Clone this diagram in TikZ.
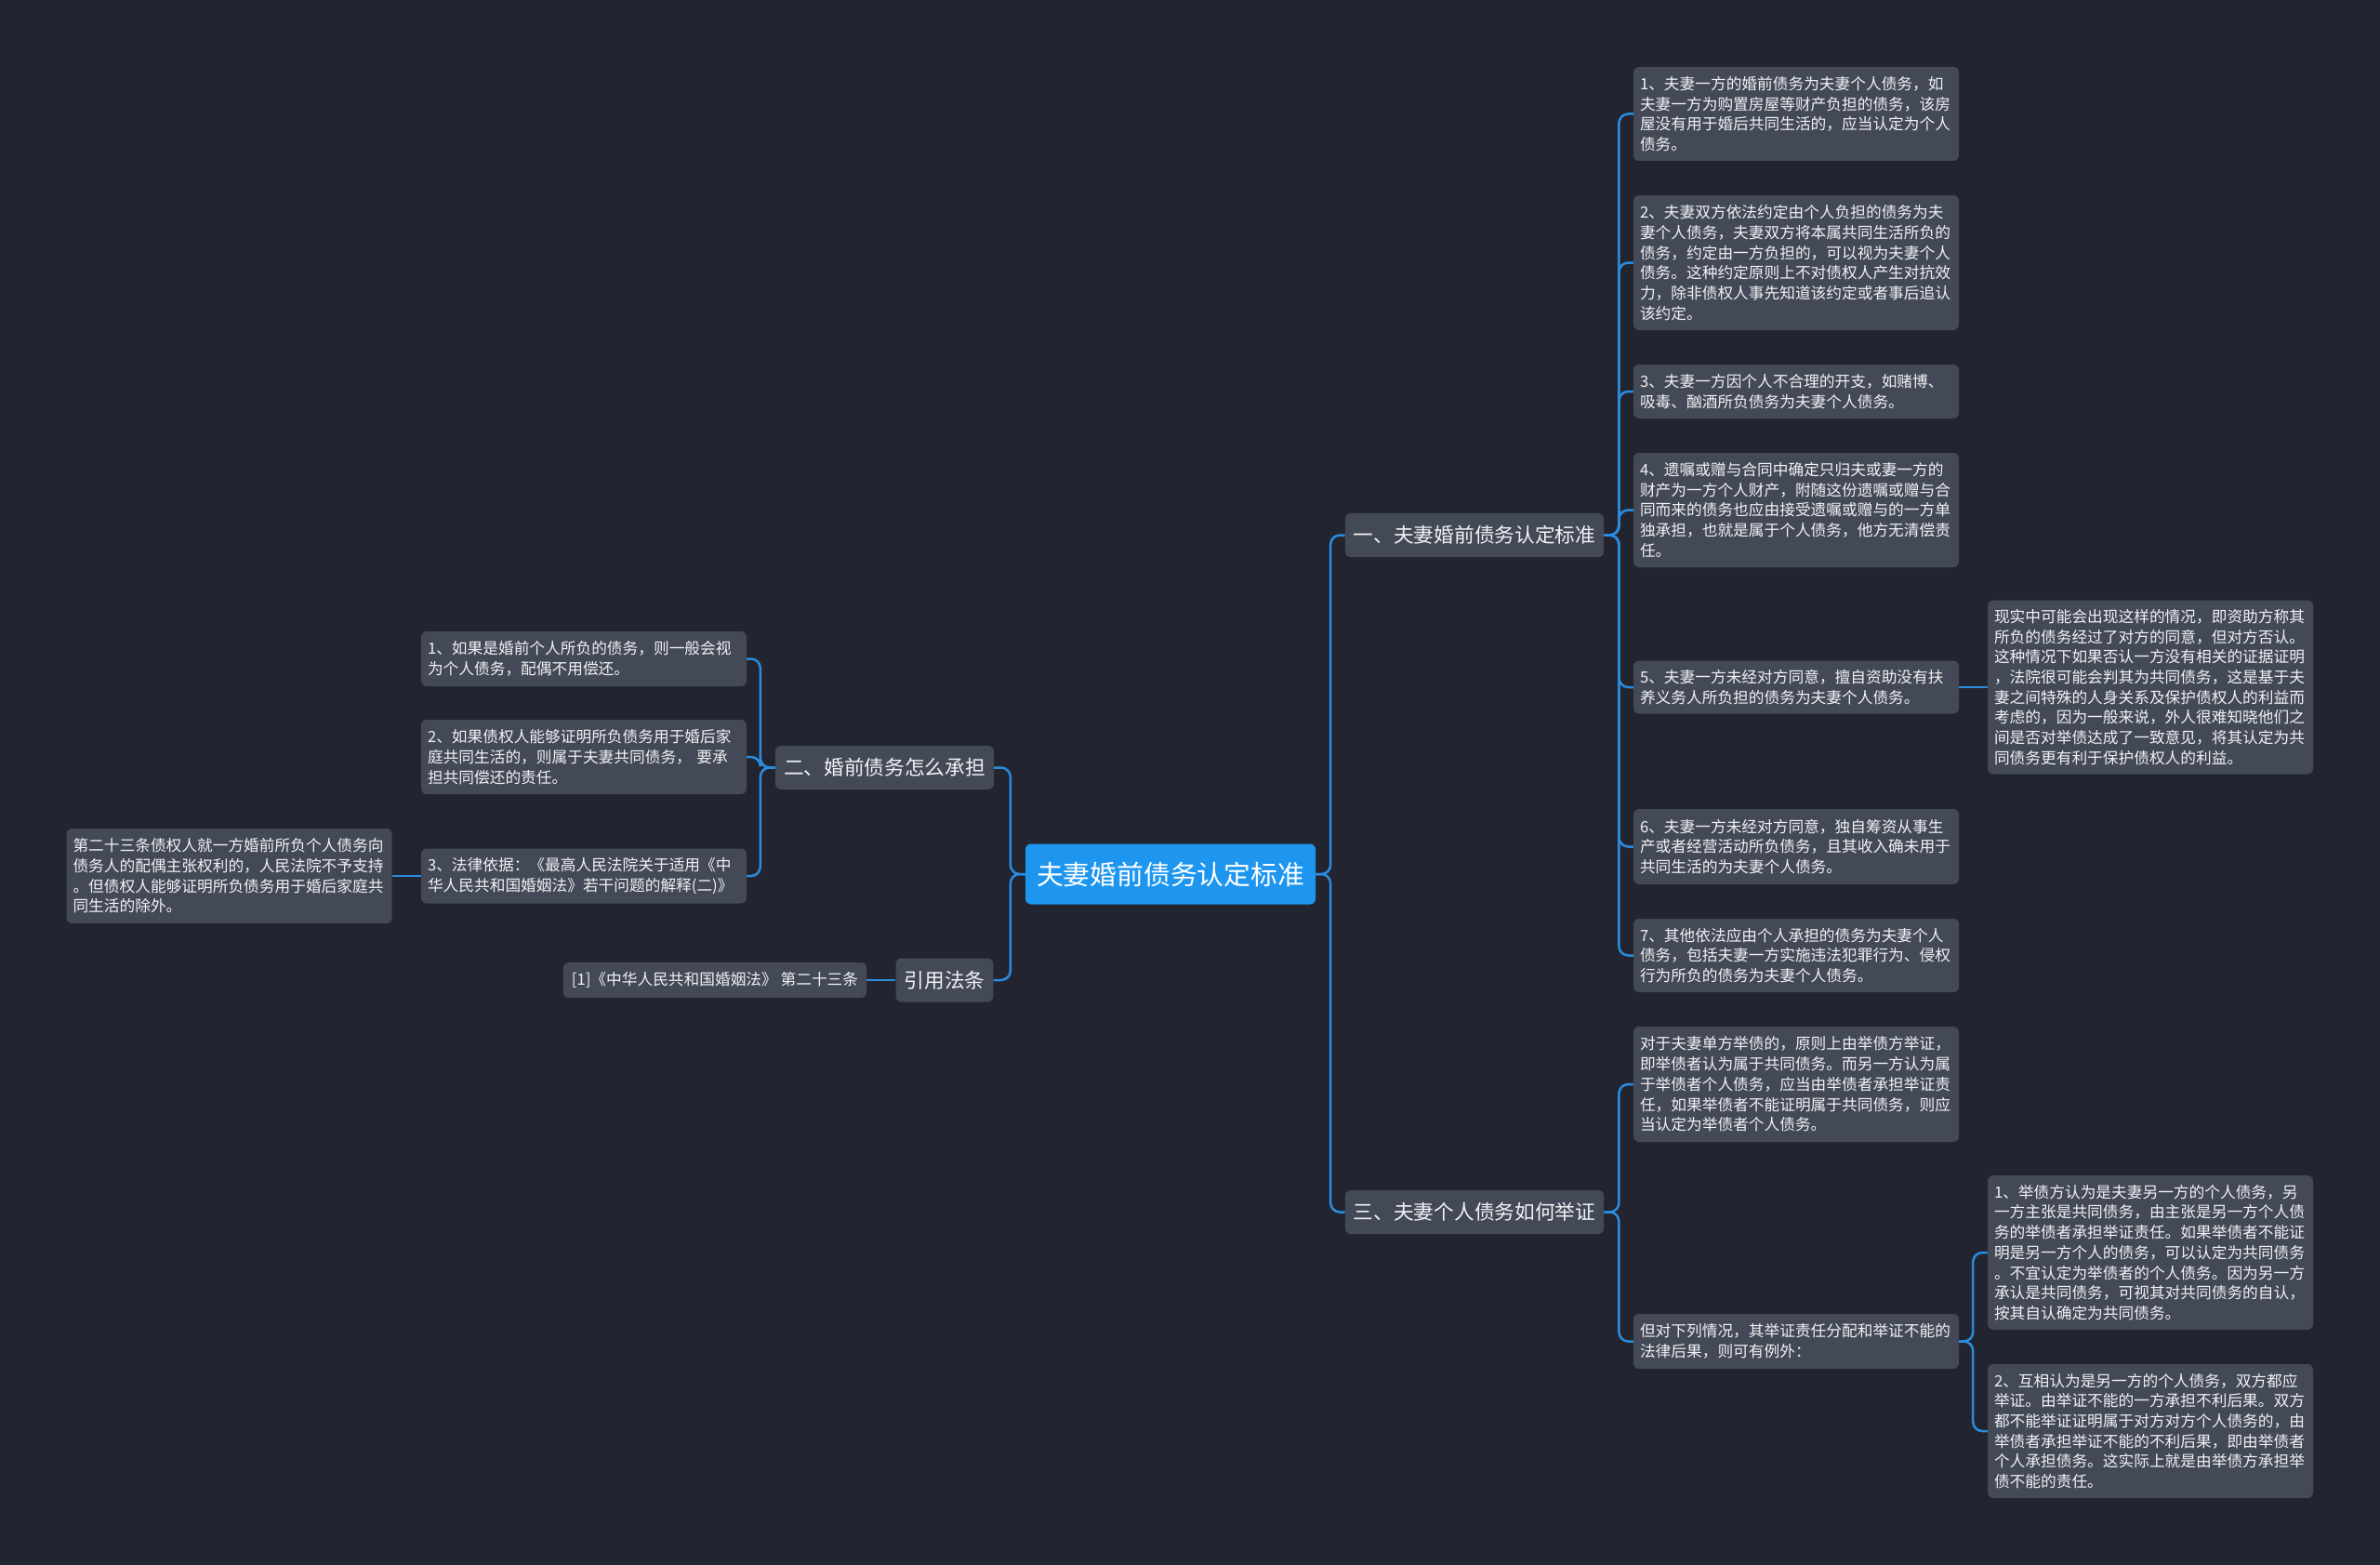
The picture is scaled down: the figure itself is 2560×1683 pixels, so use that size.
\documentclass[tikz,border=0pt]{standalone}
\usepackage{fontspec}
\setmainfont{Noto Sans CJK SC}
\definecolor{bg}{RGB}{34,37,48}
\definecolor{boxfill}{RGB}{68,73,87}
\definecolor{linkblue}{RGB}{42,140,222}
\definecolor{rootblue}{RGB}{30,150,240}
\definecolor{txt}{RGB}{240,242,245}
\tikzset{
  box/.style={draw=none, fill=boxfill, rounded corners=6pt, text=txt,
    text width=336pt, align=left, inner xsep=7pt, inner ysep=4pt,
    font=\fontsize{16.7}{21.7}\selectfont},
  lvone/.style={fill=boxfill, rounded corners=6pt, text=txt, inner xsep=9pt,
    minimum height=47pt, font=\fontsize{21.7}{24}\selectfont},
  rootnode/.style={fill=rootblue, rounded corners=6pt, text=white, inner xsep=12pt,
    minimum height=65pt, font=\fontsize{28.8}{32}\selectfont},
  smallbox/.style={fill=boxfill, rounded corners=6pt, text=txt, inner xsep=9pt,
    minimum height=38pt, minimum width=326pt, font=\fontsize{16.7}{21.7}\selectfont},
  conn/.style={draw=linkblue, line width=2.5pt, rounded corners=10pt}
}
\begin{document}
\begin{tikzpicture}[x=1pt,y=-1pt]
\fill[bg] (0,0) rectangle (2560,1683);
\useasboundingbox (0,0) rectangle (2560,1683);

% root and level one
\node[rootnode] (c) at (1259,940) {夫妻婚前债务认定标准};
\node[lvone] (n1) at (1586,575.5) {一、夫妻婚前债务认定标准};
\node[lvone] (n3) at (1586,1303.5) {三、夫妻个人债务如何举证};
\node[lvone] (n2) at (951.5,825.5) {二、婚前债务怎么承担};
\node[lvone] (n4) at (1016,1054) {引用法条};

% right, under n1
\node[box, minimum height=101] (r1) at (1932,122.5) {1、夫妻一方的婚前债务为夫妻个人债务，如\\夫妻一方为购置房屋等财产负担的债务，该房\\屋没有用于婚后共同生活的，应当认定为个人\\债务。};
\node[box, minimum height=145] (r2) at (1932,282.5) {2、夫妻双方依法约定由个人负担的债务为夫\\妻个人债务，夫妻双方将本属共同生活所负的\\债务，约定由一方负担的，可以视为夫妻个人\\债务。这种约定原则上不对债权人产生对抗效\\力，除非债权人事先知道该约定或者事后追认\\该约定。};
\node[box, minimum height=58] (r3) at (1932,421) {3、夫妻一方因个人不合理的开支，如赌博、\\吸毒、酗酒所负债务为夫妻个人债务。};
\node[box, minimum height=123] (r4) at (1932,548.5) {4、遗嘱或赠与合同中确定只归夫或妻一方的\\财产为一方个人财产，附随这份遗嘱或赠与合\\同而来的债务也应由接受遗嘱或赠与的一方单\\独承担，也就是属于个人债务，他方无清偿责\\任。};
\node[box, minimum height=57] (r5) at (1932,739) {5、夫妻一方未经对方同意，擅自资助没有扶\\养义务人所负担的债务为夫妻个人债务。};
\node[box, minimum height=187] (r5s) at (2313,739) {现实中可能会出现这样的情况，即资助方称其\\所负的债务经过了对方的同意，但对方否认。\\这种情况下如果否认一方没有相关的证据证明\\，法院很可能会判其为共同债务，这是基于夫\\妻之间特殊的人身关系及保护债权人的利益而\\考虑的，因为一般来说，外人很难知晓他们之\\间是否对举债达成了一致意见，将其认定为共\\同债务更有利于保护债权人的利益。};
\node[box, minimum height=81] (r6) at (1932,910.5) {6、夫妻一方未经对方同意，独自筹资从事生\\产或者经营活动所负债务，且其收入确未用于\\共同生活的为夫妻个人债务。};
\node[box, minimum height=79] (r7) at (1932,1027.5) {7、其他依法应由个人承担的债务为夫妻个人\\债务，包括夫妻一方实施违法犯罪行为、侵权\\行为所负的债务为夫妻个人债务。};

% right, under n3
\node[box, minimum height=124] (t1) at (1932,1166) {对于夫妻单方举债的，原则上由举债方举证，\\即举债者认为属于共同债务。而另一方认为属\\于举债者个人债务，应当由举债者承担举证责\\任，如果举债者不能证明属于共同债务，则应\\当认定为举债者个人债务。};
\node[box, minimum height=59] (t2) at (1932,1442.5) {但对下列情况，其举证责任分配和举证不能的\\法律后果，则可有例外：};
\node[box, minimum height=166] (t2a) at (2313,1347) {1、举债方认为是夫妻另一方的个人债务，另\\一方主张是共同债务，由主张是另一方个人债\\务的举债者承担举证责任。如果举债者不能证\\明是另一方个人的债务，可以认定为共同债务\\。不宜认定为举债者的个人债务。因为另一方\\承认是共同债务，可视其对共同债务的自认，\\按其自认确定为共同债务。};
\node[box, minimum height=144] (t2b) at (2313,1539) {2、互相认为是另一方的个人债务，双方都应\\举证。由举证不能的一方承担不利后果。双方\\都不能举证证明属于对方对方个人债务的，由\\举债者承担举证不能的不利后果，即由举债者\\个人承担债务。这实际上就是由举债方承担举\\债不能的责任。};

% left, under n2
\node[box, minimum height=59] (l1) at (628,708.5) {1、如果是婚前个人所负的债务，则一般会视\\为个人债务，配偶不用偿还。};
\node[box, minimum height=80] (l2) at (628,814) {2、如果债权人能够证明所负债务用于婚后家\\庭共同生活的，则属于夫妻共同债务， 要承\\担共同偿还的责任。};
\node[box, minimum height=59] (l3) at (628,942) {3、法律依据：《最高人民法院关于适用《中\\华人民共和国婚姻法》若干问题的解释(二)》};
\node[box, minimum height=102] (l3s) at (246.5,942) {第二十三条债权人就一方婚前所负个人债务向\\债务人的配偶主张权利的，人民法院不予支持\\。但债权人能够证明所负债务用于婚后家庭共\\同生活的除外。};
\node[smallbox] (ref) at (769,1054) {[1]《中华人民共和国婚姻法》 第二十三条};

% connectors
\foreach \t in {n1,n3} \draw[conn] (c.east) -- ++(16,0) |- (\t.west);
\foreach \t in {n2,n4} \draw[conn] (c.west) -- ++(-16,0) |- (\t.east);
\foreach \t in {r1,r2,r3,r4,r5,r6,r7} \draw[conn] (n1.east) -- ++(16,0) |- (\t.west);
\foreach \t in {t1,t2} \draw[conn] (n3.east) -- ++(16,0) |- (\t.west);
\foreach \t in {t2a,t2b} \draw[conn] (t2.east) -- ++(15,0) |- (\t.west);
\foreach \t in {l1,l2,l3} \draw[conn] (n2.west) -- ++(-16,0) |- (\t.east);
\draw[conn] (r5.east) -- (r5s.west);
\draw[conn] (l3.west) -- (l3s.east);
\draw[conn] (n4.west) -- (ref.east);
\end{tikzpicture}
\end{document}
